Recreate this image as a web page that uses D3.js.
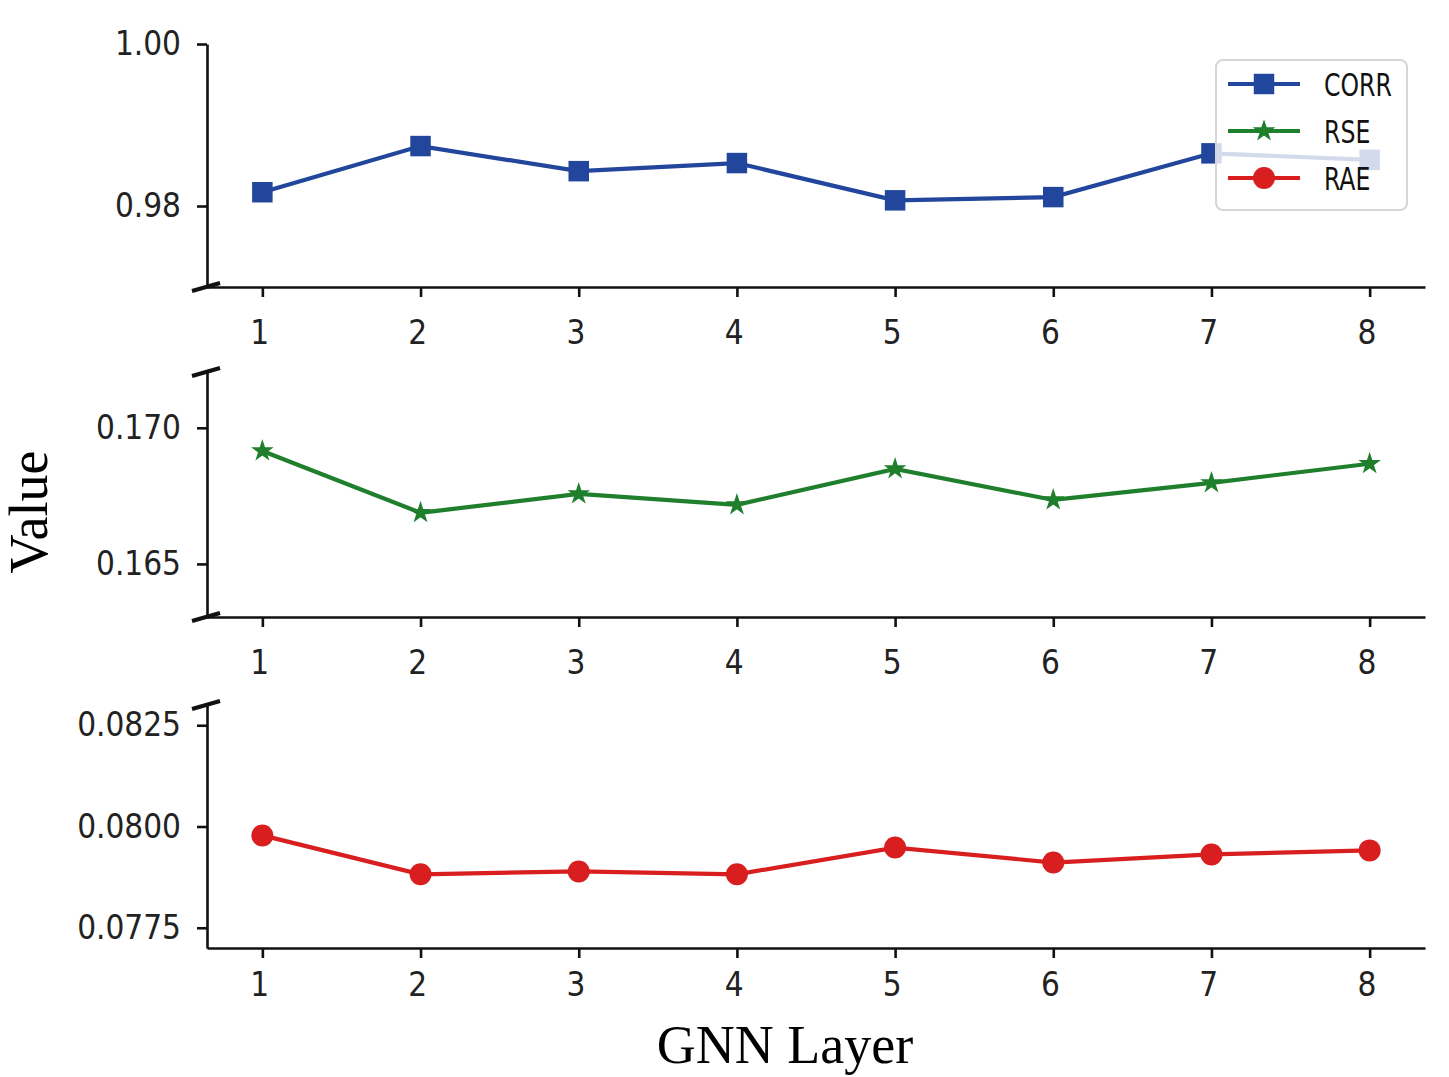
<!DOCTYPE html>
<html>
<head>
<meta charset="utf-8">
<script src="https://cdn.jsdelivr.net/npm/d3@7"></script>
<style>
  body { margin: 0; background: #fff; }
  .tick text { font-family: "Liberation Sans Narrow", "DejaVu Sans Condensed", "Noto Sans", sans-serif; font-size: 33px; fill: #222; }
  .axis path, .axis line { stroke: #111; stroke-width: 2.6px; }
  .lab { font-family: "Liberation Serif", "DejaVu Serif", serif; font-size: 54px; fill: #000; }
  .leg { font-family: "Liberation Sans Narrow", "DejaVu Sans Condensed", sans-serif; font-size: 32px; fill: #111; }
</style>
</head>
<body>
<svg id="chart"></svg>
<script>
// data
var layers = [1, 2, 3, 4, 5, 6, 7, 8];
var corr = [0.9817, 0.9874, 0.9843, 0.9853, 0.9807, 0.9811, 0.9865, 0.9857];
var rse  = [0.16915, 0.16688, 0.16757, 0.16717, 0.16849, 0.16735, 0.16798, 0.16868];
var rae  = [0.07978, 0.07882, 0.07889, 0.07882, 0.07948, 0.07911, 0.07931, 0.07941];
var corrTicks = [0.98, 1.00];
var rseTicks = [0.165, 0.170];
var raeTicks = [0.0775, 0.0800, 0.0825];
var seriesNames = ['CORR', 'RSE', 'RAE'];

var width = 1449, height = 1077;
var left = 207, right = 1425;

var svg = d3.select('#chart')
  .attr('width', width)
  .attr('height', height);

var x = d3.scaleLinear()
  .domain([0.65, 8.35])
  .range([left, right]);

// one entry per stacked panel
var panels = [
  {name: 'CORR', values: corr, ticks: corrTicks, dec: 2, top: 44,  bottom: 287, domain: [0.97, 1.00], pad: 24,
   color: '#21469c', marker: 'square', breakTop: false, breakBottom: true},
  {name: 'RSE',  values: rse,  ticks: rseTicks,  dec: 3, top: 372, bottom: 617, domain: [0.16305, 0.17205], pad: 24,
   color: '#1f7f2c', marker: 'star', breakTop: true, breakBottom: true},
  {name: 'RAE',  values: rae,  ticks: raeTicks,  dec: 4, top: 705, bottom: 948, domain: [0.0770, 0.0830], pad: 15,
   color: '#d81e1e', marker: 'circle', breakTop: true, breakBottom: false}
];

function markerPath(type) {
  if (type === 'square') return d3.symbol().type(d3.symbolSquare).size(420)();
  if (type === 'star') return d3.symbol().type(d3.symbolStar).size(100)();
  return d3.symbol().type(d3.symbolCircle).size(380)();
}

function drawBreak(y) {
  svg.append('line')
    .attr('x1', left - 15).attr('y1', y + 4)
    .attr('x2', left + 13).attr('y2', y - 4)
    .attr('stroke', '#111')
    .attr('stroke-width', 4);
}

panels.forEach(function(p) {
  var y = d3.scaleLinear().domain(p.domain).range([p.bottom, p.top]);
  p.y = y;

  svg.append('g')
    .attr('class', 'axis')
    .attr('transform', 'translate(0,' + p.bottom + ')')
    .call(d3.axisBottom(x).tickValues(layers).tickSize(10).tickSizeOuter(0).tickPadding(p.pad))
    .call(function(g) { g.selectAll('.tick text').attr('dx', '-0.1em'); });

  svg.append('g')
    .attr('class', 'axis')
    .attr('transform', 'translate(' + left + ',0)')
    .call(d3.axisLeft(y).tickValues(p.ticks).tickSize(10).tickSizeOuter(0).tickPadding(16)
      .tickFormat(function(d) { return d.toFixed(p.dec); }));

  if (p.breakTop) drawBreak(p.top);
  if (p.breakBottom) drawBreak(p.bottom);

  var line = d3.line()
    .x(function(d, i) { return x(layers[i]); })
    .y(function(d) { return y(d); });

  svg.append('path')
    .datum(p.values)
    .attr('fill', 'none')
    .attr('stroke', p.color)
    .attr('stroke-width', 4.2)
    .attr('d', line);

  svg.selectAll('.m-' + p.name)
    .data(p.values)
    .enter().append('path')
    .attr('class', 'm-' + p.name)
    .attr('transform', function(d, i) { return 'translate(' + x(layers[i]) + ',' + y(d) + ')'; })
    .attr('d', markerPath(p.marker))
    .attr('fill', p.color)
    .attr('stroke', p.color)
    .attr('stroke-width', p.marker === 'star' ? 1.5 : 0);
});

// legend sits on the top panel, semi transparent like matplotlib
var leg = svg.append('g').attr('transform', 'translate(1216,60)');
leg.append('rect')
  .attr('width', 191).attr('height', 150).attr('rx', 7)
  .attr('fill', 'white').attr('fill-opacity', 0.8)
  .attr('stroke', '#d6d6d6').attr('stroke-width', 2);

panels.forEach(function(p, i) {
  var row = leg.append('g').attr('transform', 'translate(0,' + (24 + i * 47) + ')');
  row.append('line')
    .attr('x1', 12).attr('x2', 84)
    .attr('stroke', p.color).attr('stroke-width', 4.2);
  row.append('path')
    .attr('transform', 'translate(48,0)')
    .attr('d', markerPath(p.marker))
    .attr('fill', p.color)
    .attr('stroke', p.color)
    .attr('stroke-width', p.marker === 'star' ? 1.5 : 0);
  row.append('text')
    .attr('class', 'leg')
    .attr('transform', 'translate(108,0) scale(0.82,1)')
    .attr('dy', '0.36em')
    .text(seriesNames[i]);
});

svg.append('text')
  .attr('class', 'lab')
  .attr('text-anchor', 'middle')
  .attr('transform', 'translate(47,512) rotate(-90)')
  .text('Value');

svg.append('text')
  .attr('class', 'lab')
  .attr('text-anchor', 'middle')
  .attr('x', 785).attr('y', 1063)
  .text('GNN Layer');
</script>
</body>
</html>
